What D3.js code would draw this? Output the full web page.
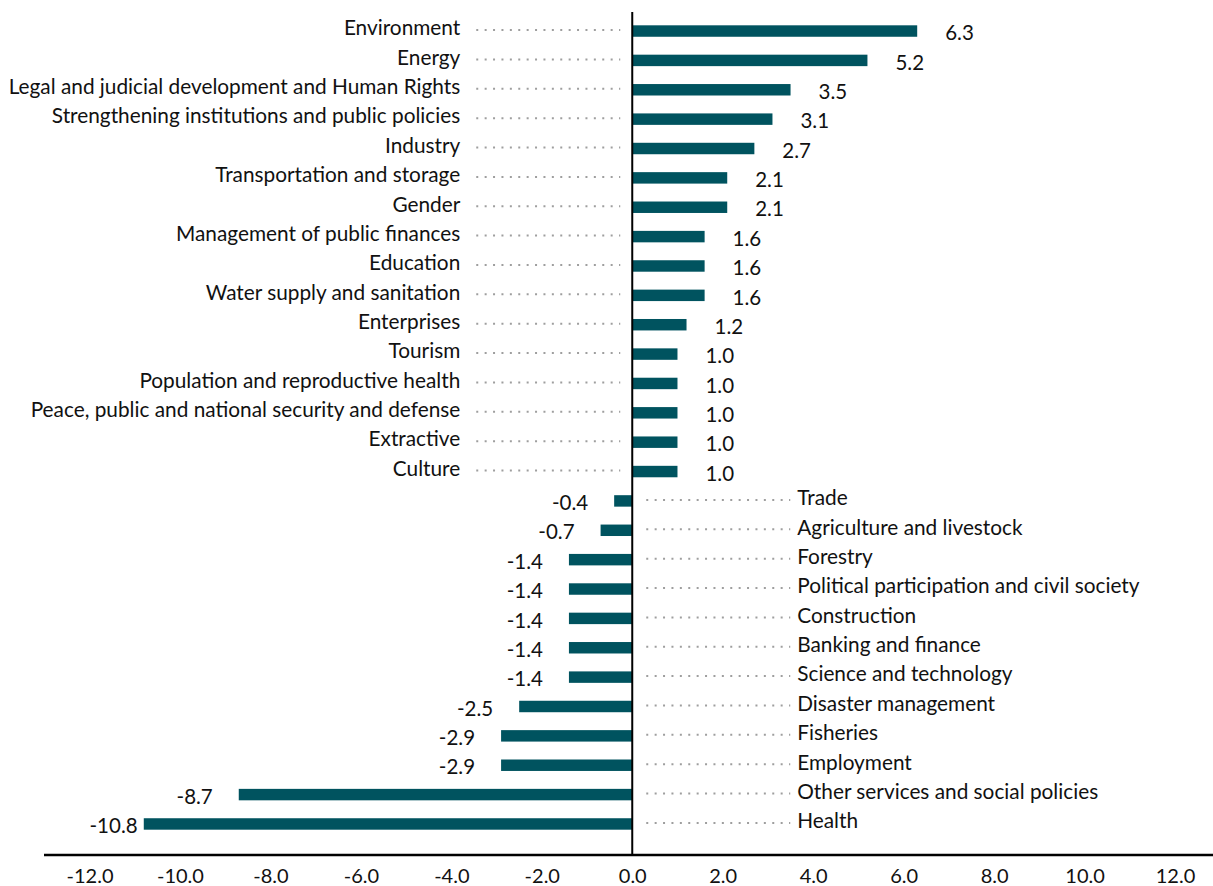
<!DOCTYPE html>
<html>
<head>
<meta charset="utf-8">
<script src="https://cdn.jsdelivr.net/npm/d3@7"></script>
<style>
  html, body { margin: 0; padding: 0; background: #fff; }
  svg { display: block; font-family: Lato, "Noto Sans", sans-serif; }
</style>
</head>
<body>
<svg id="chart" width="1213" height="886"></svg>
<script>
const categories = [
  "Environment", "Energy", "Legal and judicial development and Human Rights",
  "Strengthening institutions and public policies", "Industry",
  "Transportation and storage", "Gender", "Management of public finances",
  "Education", "Water supply and sanitation", "Enterprises", "Tourism",
  "Population and reproductive health",
  "Peace, public and national security and defense", "Extractive", "Culture",
  "Trade", "Agriculture and livestock", "Forestry",
  "Political participation and civil society", "Construction",
  "Banking and finance", "Science and technology", "Disaster management",
  "Fisheries", "Employment", "Other services and social policies", "Health"
];
const values = [
  6.3, 5.2, 3.5, 3.1, 2.7, 2.1, 2.1, 1.6, 1.6, 1.6, 1.2, 1.0, 1.0, 1.0, 1.0, 1.0,
  -0.4, -0.7, -1.4, -1.4, -1.4, -1.4, -1.4, -2.5, -2.9, -2.9, -8.7, -10.8
];
const tickValues = [-12, -10, -8, -6, -4, -2, 0, 2, 4, 6, 8, 10, 12];

const data = categories.map((c, i) => ({ c, v: values[i] }));
const fmt = v => d3.format(".1f")(v).replace("\u2212", "-");

const svg = d3.select("#chart");
const W = 1213, H = 886;
const barColor = "#00535f";
const textColor = "#111";

const x = d3.scaleLinear().domain([-12, 12]).range([89.5, 1175]);
const y = d3.scaleBand().domain(categories).range([16.5, 838.5]).paddingInner(0.61).paddingOuter(0.3);
const axisY = 855;

// bars
svg.append("g").selectAll("rect").data(data).join("rect")
  .attr("x", d => x(Math.min(0, d.v)))
  .attr("width", d => Math.abs(x(d.v) - x(0)))
  .attr("y", d => y(d.c))
  .attr("height", y.bandwidth())
  .attr("fill", barColor);

// dotted leader lines
const cy = d => y(d.c) + y.bandwidth() / 2;
svg.append("g").selectAll("line").data(data).join("line")
  .attr("x1", d => d.v >= 0 ? x(0) - 156 : x(0) + 14)
  .attr("x2", d => d.v >= 0 ? x(0) - 12 : x(0) + 158)
  .attr("y1", d => cy(d) - 1).attr("y2", d => cy(d) - 1)
  .attr("stroke", "#9e9e9e")
  .attr("stroke-width", 2)
  .attr("stroke-dasharray", "2,6.4");

// category labels
svg.append("g").selectAll("text").data(data).join("text")
  .attr("x", d => d.v >= 0 ? x(0) - 172 : x(0) + 165)
  .attr("y", d => cy(d) - 3)
  .attr("dy", "0.35em")
  .attr("text-anchor", d => d.v >= 0 ? "end" : "start")
  .attr("font-size", 20.8)
  .attr("fill", textColor)
  .text(d => d.c);

// value labels
const vl = svg.append("g").selectAll("text").data(data).join("text")
  .attr("y", d => cy(d) + 2)
  .attr("dy", "0.35em")
  .attr("text-anchor", d => d.v >= 0 ? "start" : "end")
  .attr("font-size", 20.5)
  .attr("fill", textColor)
  .text(d => fmt(d.v));
vl.each(function(d) {
  const t = d3.select(this);
  if (d.v >= 0) {
    t.attr("x", x(d.v) + 28);
  } else {
    const w = this.getComputedTextLength();
    t.attr("x", Math.max(x(d.v) - 26, x.range()[0] + w));
  }
});

// zero line
svg.append("line")
  .attr("x1", x(0)).attr("x2", x(0))
  .attr("y1", 12).attr("y2", axisY)
  .attr("stroke", "#000").attr("stroke-width", 2);

// x axis
const axis = d3.axisBottom(x).tickValues(tickValues).tickSize(0).tickPadding(14)
  .tickFormat(fmt);
const ag = svg.append("g").attr("transform", `translate(0,${axisY})`).call(axis);
ag.select(".domain").remove();
ag.selectAll("text").attr("font-size", 20).attr("fill", textColor)
  .attr("font-family", "Lato, 'Noto Sans', sans-serif");
svg.append("line")
  .attr("x1", 44).attr("x2", W)
  .attr("y1", axisY).attr("y2", axisY)
  .attr("stroke", "#000").attr("stroke-width", 2.5);
</script>
</body>
</html>
